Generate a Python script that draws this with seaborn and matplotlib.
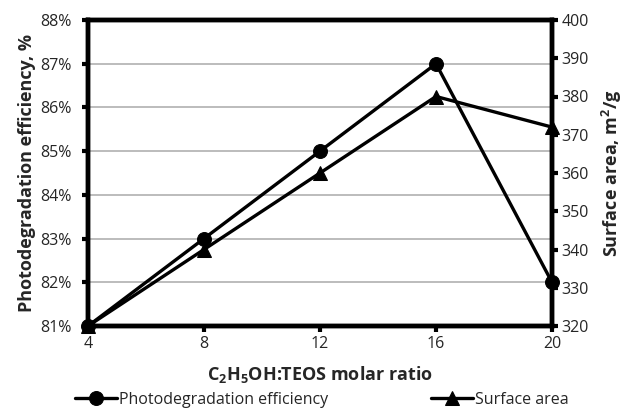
import matplotlib
matplotlib.use("Agg")
import matplotlib.pyplot as plt
import seaborn as sns
import pandas as pd
from matplotlib.ticker import FuncFormatter

ratio = [4, 8, 12, 16, 20]
efficiency = [81, 83, 85, 87, 82]
surface_area = [320, 340, 360, 380, 372]

sns.set_style("white")
FONT = 'Open Sans'
plt.rcParams['font.family'] = [FONT, 'DejaVu Sans']
plt.rcParams['mathtext.fontset'] = 'custom'
plt.rcParams['mathtext.rm'] = f'{FONT}:bold'
plt.rcParams['mathtext.bf'] = f'{FONT}:bold'
plt.rcParams['mathtext.it'] = f'{FONT}:bold'

df = pd.DataFrame({"ratio": ratio, "eff": efficiency, "sa": surface_area})

fig = plt.figure(figsize=(6.31, 4.16), dpi=100)
ax = fig.add_axes([88/631, 90/416, (552-88)/631, (326-20)/416])
ax2 = ax.twinx()

sns.lineplot(data=df, x="ratio", y="eff", ax=ax, color="black", lw=2.4,
             marker="o", markersize=10, markeredgecolor="black", label="Photodegradation efficiency",
             legend=False, clip_on=False, zorder=5)
sns.lineplot(data=df, x="ratio", y="sa", ax=ax2, color="black", lw=2.4,
             marker="^", markersize=10, markeredgecolor="black", label="Surface area",
             legend=False, clip_on=False, zorder=5)

ax.set_xlim(4, 20)
ax.set_ylim(81, 88)
ax2.set_ylim(320, 400)
ax.set_xticks(ratio)
ax.set_yticks(range(81, 89))
ax2.set_yticks(range(320, 401, 10))
ax.yaxis.set_major_formatter(FuncFormatter(lambda v, p: f"{int(v)}%"))
ax.grid(axis="y", color="#b0b0b0", lw=1.2)
ax.grid(axis="x", visible=False)
ax2.grid(False)

for a in (ax, ax2):
    for s in a.spines.values():
        s.set_linewidth(3.2)
        s.set_color("black")
    a.tick_params(axis="both", labelsize=11.5, length=4, width=3, color="black", direction="out", pad=3)
ax.tick_params(axis="x", bottom=True)
ax.tick_params(axis="y", left=True, pad=8)
ax2.tick_params(axis="y", right=True)

ax.set_xlabel(r"C$_2$H$_5$OH:TEOS molar ratio", fontsize=13, fontweight="bold", labelpad=9)
ax.set_ylabel("Photodegradation efficiency, %", fontsize=13, fontweight="bold", labelpad=3)
ax2.set_ylabel(r"Surface area, m$^2$/g", fontsize=13, fontweight="bold", labelpad=8)

h1, l1 = ax.get_legend_handles_labels()
h2, l2 = ax2.get_legend_handles_labels()
fig.legend(h1 + h2, l1 + l2, loc="lower center", bbox_to_anchor=(0.51, -0.015), ncol=2,
           frameon=False, fontsize=11.5, handlelength=2.6, handletextpad=0.1, columnspacing=6.5)

fig.savefig("out.png", dpi=100)
